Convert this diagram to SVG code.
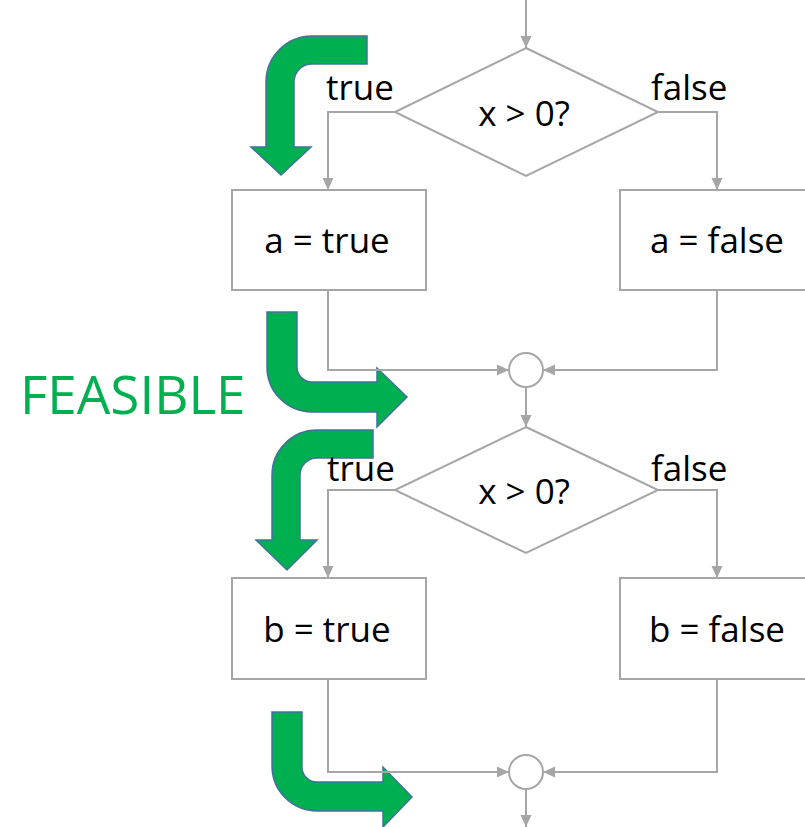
<svg xmlns="http://www.w3.org/2000/svg" width="805" height="827" viewBox="0 0 805 827">
<style>
.ln{fill:none;stroke:#A6A6A6;stroke-width:2}
.shape{fill:#FFFFFF;stroke:#A6A6A6;stroke-width:2}
.t{font-family:"Open Sans","Noto Sans","Liberation Sans",sans-serif;font-size:35px;fill:#000000}
.mid{text-anchor:middle}
.big{fill:#00B050;stroke:#41719C;stroke-width:1.5;stroke-linejoin:miter}
.feas{font-family:"Open Sans","Noto Sans","Liberation Sans",sans-serif;font-size:53px;fill:#00B050}
</style>
<defs>
<marker id="ah" markerUnits="userSpaceOnUse" markerWidth="12" markerHeight="12" refX="12" refY="6" orient="auto">
<path d="M0,0.5 L12,6 L0,11.5 Z" fill="#A6A6A6"/>
</marker>
</defs>
<g id="green-arrows">
<path class="big" d="M367,36 L312,36 A46,46 0 0 0 266,82 L266,147 L251,147 L281,175 L311,147 L294,147 L294,82 A18,18 0 0 1 312,64 L367,64 Z"/>
<path class="big" d="M267,312 L267,367 A45,45 0 0 0 312,412 L377,412 L377,427 L407,397 L377,368 L377,382 L312,382 A15,15 0 0 1 297,367 L297,312 Z"/>
<path class="big" d="M373,430 L317,430 A45,45 0 0 0 272,475 L272,540 L256,540 L287,570 L317,540 L300,540 L300,475 A17,17 0 0 1 317,458 L373,458 Z"/>
<path class="big" d="M272,712 L272,766 A45,45 0 0 0 317,811 L383,811 L383,827 L412,797 L383,767 L383,782 L317,782 A15,15 0 0 1 302,766 L302,712 Z"/>
</g>
<g id="connectors">
<path class="ln" d="M526,0 L526,48" marker-end="url(#ah)"/>
<path class="ln" d="M395,112 L328,112 L328,190" marker-end="url(#ah)"/>
<path class="ln" d="M658,112 L717,112 L717,190" marker-end="url(#ah)"/>
<path class="ln" d="M328,290 L328,370 L509,370" marker-end="url(#ah)"/>
<path class="ln" d="M717,290 L717,370 L543,370" marker-end="url(#ah)"/>
<path class="ln" d="M526,387 L526,427" marker-end="url(#ah)"/>
<path class="ln" d="M395,490 L328,490 L328,578" marker-end="url(#ah)"/>
<path class="ln" d="M658,490 L717,490 L717,578" marker-end="url(#ah)"/>
<path class="ln" d="M328,679 L328,772 L509,772" marker-end="url(#ah)"/>
<path class="ln" d="M717,679 L717,772 L543,772" marker-end="url(#ah)"/>
<path class="ln" d="M526,789 L526,827" marker-end="url(#ah)"/>
</g>
<g id="dec1">
<polygon class="shape" points="526,48 658,112 526,176 395,112"/>
<text class="t mid" x="524" y="126">x &gt; 0?</text>
</g>
<g id="lbl-true1"><text class="t" x="326" y="100">true</text></g>
<g id="lbl-false1"><text class="t" x="651" y="100">false</text></g>
<g id="box-a-true">
<rect class="shape" x="232" y="190" width="194" height="100"/>
<text class="t mid" x="327" y="253">a = true</text>
</g>
<g id="box-a-false">
<rect class="shape" x="620" y="190" width="194" height="100"/>
<text class="t mid" x="717" y="253">a = false</text>
</g>
<g id="merge1"><circle class="shape" cx="526" cy="370" r="17"/></g>
<g id="dec2">
<polygon class="shape" points="526,427 658,490 526,553 395,490"/>
<text class="t mid" x="524" y="504">x &gt; 0?</text>
</g>
<g id="lbl-true2"><text class="t" x="327" y="481">true</text></g>
<g id="lbl-false2"><text class="t" x="651" y="481">false</text></g>
<g id="box-b-true">
<rect class="shape" x="232" y="578" width="194" height="101"/>
<text class="t mid" x="327" y="642">b = true</text>
</g>
<g id="box-b-false">
<rect class="shape" x="620" y="578" width="194" height="101"/>
<text class="t mid" x="717" y="642">b = false</text>
</g>
<g id="merge2"><circle class="shape" cx="526" cy="772" r="17"/></g>
<g id="feasible"><text class="feas" x="20" y="414">FEASIBLE</text></g>
</svg>
